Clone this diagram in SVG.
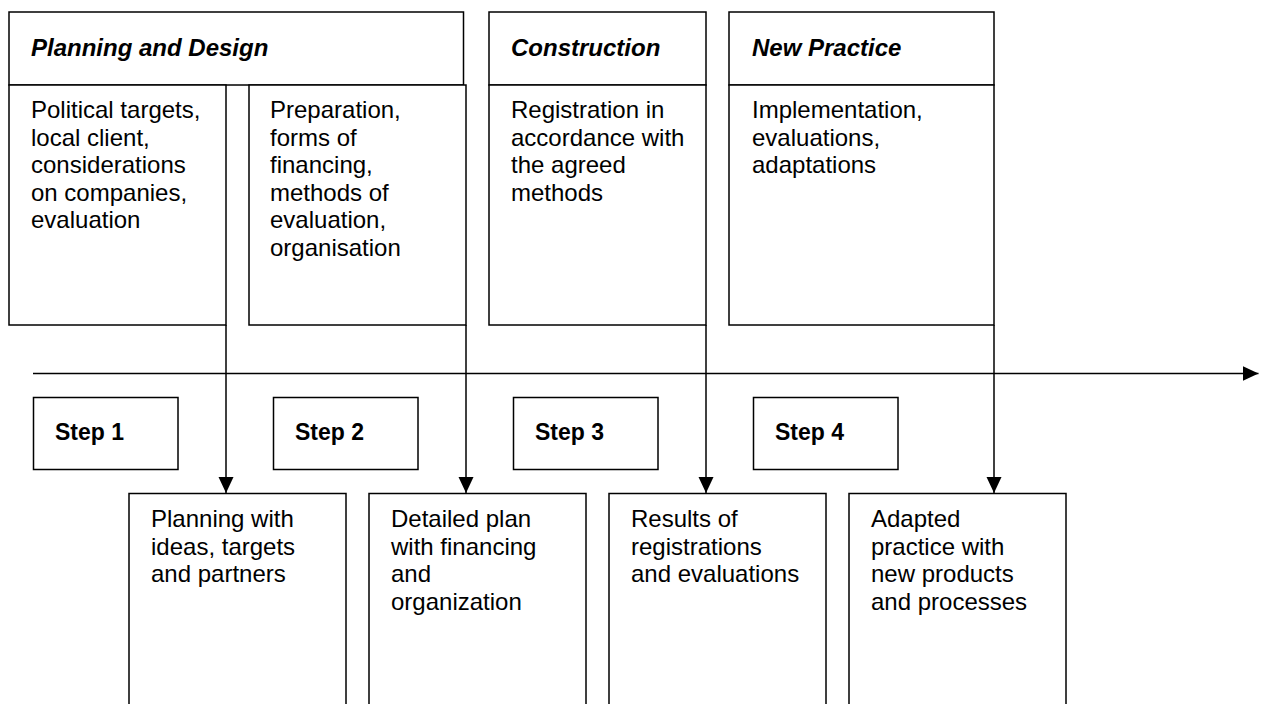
<svg xmlns="http://www.w3.org/2000/svg" width="1261" height="704" viewBox="0 0 1261 704">
<style>
.box{fill:#fff;stroke:#000;stroke-width:1.5}
.t{font-family:"Liberation Sans",Arial,sans-serif;font-size:24px;fill:#000}
.h{font-weight:bold;font-style:italic}
.s{font-weight:bold;font-size:23px}
.c{stroke:#000;stroke-width:1.5;fill:none}
</style>
<defs>
<marker id="ah" markerUnits="userSpaceOnUse" markerWidth="16" markerHeight="16" refX="16" refY="7.5" orient="auto">
<path d="M0,0 L16,7.5 L0,15 Z" fill="#000"/>
</marker>
</defs>
<g id="phase-planning">
<rect class="box" x="9" y="12" width="454.5" height="73"/>
<text class="t h" x="31" y="56">Planning and Design</text>
</g>
<g id="phase-construction">
<rect class="box" x="489" y="12" width="217" height="73"/>
<text class="t h" x="511" y="56">Construction</text>
</g>
<g id="phase-newpractice">
<rect class="box" x="729" y="12" width="265" height="73"/>
<text class="t h" x="752" y="56">New Practice</text>
</g>
<g id="top1">
<rect class="box" x="9" y="85" width="217" height="240"/>
<text class="t" x="31" y="118"><tspan x="31">Political targets,</tspan><tspan x="31" dy="27.6">local client,</tspan><tspan x="31" dy="27.6">considerations</tspan><tspan x="31" dy="27.6">on companies,</tspan><tspan x="31" dy="27.6">evaluation</tspan></text>
</g>
<g id="top2">
<rect class="box" x="249" y="85" width="217" height="240"/>
<text class="t" x="270" y="118"><tspan x="270">Preparation,</tspan><tspan x="270" dy="27.6">forms of</tspan><tspan x="270" dy="27.6">financing,</tspan><tspan x="270" dy="27.6">methods of</tspan><tspan x="270" dy="27.6">evaluation,</tspan><tspan x="270" dy="27.6">organisation</tspan></text>
</g>
<g id="top3">
<rect class="box" x="489" y="85" width="217" height="240"/>
<text class="t" x="511" y="118"><tspan x="511">Registration in</tspan><tspan x="511" dy="27.6">accordance with</tspan><tspan x="511" dy="27.6">the agreed</tspan><tspan x="511" dy="27.6">methods</tspan></text>
</g>
<g id="top4">
<rect class="box" x="729" y="85" width="265" height="240"/>
<text class="t" x="752" y="118"><tspan x="752">Implementation,</tspan><tspan x="752" dy="27.6">evaluations,</tspan><tspan x="752" dy="27.6">adaptations</tspan></text>
</g>
<g id="step1">
<rect class="box" x="33.5" y="397.5" width="144.5" height="72"/>
<text class="t s" x="55" y="440">Step 1</text>
</g>
<g id="step2">
<rect class="box" x="273.5" y="397.5" width="144.5" height="72"/>
<text class="t s" x="295" y="440">Step 2</text>
</g>
<g id="step3">
<rect class="box" x="513.5" y="397.5" width="144.5" height="72"/>
<text class="t s" x="535" y="440">Step 3</text>
</g>
<g id="step4">
<rect class="box" x="753.5" y="397.5" width="144.5" height="72"/>
<text class="t s" x="775" y="440">Step 4</text>
</g>
<g id="result1">
<rect class="box" x="129" y="493.5" width="217" height="230"/>
<text class="t" x="151" y="527"><tspan x="151">Planning with</tspan><tspan x="151" dy="27.6">ideas, targets</tspan><tspan x="151" dy="27.6">and partners</tspan></text>
</g>
<g id="result2">
<rect class="box" x="369" y="493.5" width="217" height="230"/>
<text class="t" x="391" y="527"><tspan x="391">Detailed plan</tspan><tspan x="391" dy="27.6">with financing</tspan><tspan x="391" dy="27.6">and</tspan><tspan x="391" dy="27.6">organization</tspan></text>
</g>
<g id="result3">
<rect class="box" x="609" y="493.5" width="217" height="230"/>
<text class="t" x="631" y="527"><tspan x="631">Results of</tspan><tspan x="631" dy="27.6">registrations</tspan><tspan x="631" dy="27.6">and evaluations</tspan></text>
</g>
<g id="result4">
<rect class="box" x="849" y="493.5" width="217" height="230"/>
<text class="t" x="871" y="527"><tspan x="871">Adapted</tspan><tspan x="871" dy="27.6">practice with</tspan><tspan x="871" dy="27.6">new products</tspan><tspan x="871" dy="27.6">and processes</tspan></text>
</g>
<g id="connectors">
<line class="c" x1="33" y1="373.5" x2="1258.5" y2="373.5" marker-end="url(#ah)"/>
<line class="c" x1="226" y1="325" x2="226" y2="493" marker-end="url(#ah)"/>
<line class="c" x1="466" y1="325" x2="466" y2="493" marker-end="url(#ah)"/>
<line class="c" x1="706" y1="325" x2="706" y2="493" marker-end="url(#ah)"/>
<line class="c" x1="994" y1="325" x2="994" y2="493" marker-end="url(#ah)"/>
</g>
</svg>
